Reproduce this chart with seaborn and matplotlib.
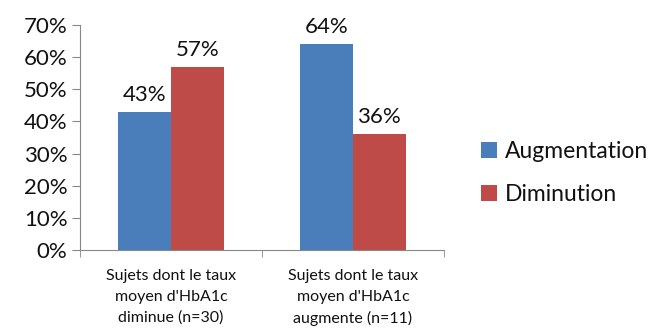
import matplotlib
matplotlib.use("Agg")
import matplotlib.pyplot as plt
import seaborn as sns
import pandas as pd
from matplotlib.patches import Patch
from matplotlib.ticker import FuncFormatter

categories = ["Sujets dont le taux\nmoyen d'HbA1c\ndiminue (n=30)",
              "Sujets dont le taux\nmoyen d'HbA1c\naugmente (n=11)"]
series = ["Augmentation", "Diminution"]
augmentation = [43, 64]
diminution = [57, 36]
colors = ["#4A7EBB", "#BE4B48"]

df = pd.DataFrame({
    "cat": categories * 2,
    "serie": [series[0]] * 2 + [series[1]] * 2,
    "val": augmentation + diminution,
})

sns.set_style("white")
plt.rcParams["font.family"] = ["Lato", "DejaVu Sans"]

fig = plt.figure(figsize=(6.52, 3.29), dpi=100)
ax = fig.add_axes([80 / 652, 1 - 250 / 329, 364 / 652, 225 / 329])

sns.barplot(data=df, x="cat", y="val", hue="serie", palette=colors,
            width=0.58, ax=ax, legend=False, saturation=1,
            edgecolor="none")

for cont in ax.containers:
    ax.bar_label(cont, labels=[f"{v:.0f}%" for v in cont.datavalues],
                 fontsize=16, padding=5, color="#111111")

ax.set_xlim(-0.5, 1.5)
ax.set_ylim(0, 70)
ax.set_yticks(range(0, 71, 10))
ax.yaxis.set_major_formatter(FuncFormatter(lambda v, p: f"{v:.0f}%"))
ax.set_xticks([-0.5, 0.5, 1.5], minor=True)
ax.tick_params(axis="x", which="major", length=0, labelsize=11.5, pad=14)
ax.tick_params(axis="x", which="minor", length=5, color="#888888",
               direction="out", bottom=True)
ax.tick_params(axis="y", length=6, color="#888888", labelsize=16,
               direction="out", left=True, pad=3, labelcolor="#111111")
for lab in ax.get_xticklabels():
    lab.set_linespacing(1.6)
    lab.set_color("#111111")
ax.set_xlabel("")
ax.set_ylabel("")
for s in ["top", "right"]:
    ax.spines[s].set_visible(False)
for s in ["left", "bottom"]:
    ax.spines[s].set_color("#888888")
    ax.spines[s].set_linewidth(0.8)

handles = [Patch(facecolor=c, edgecolor="none") for c in colors]
fig.legend(handles, series, loc="center left",
           bbox_to_anchor=(465 / 652, 1 - 173 / 329), frameon=False,
           fontsize=16.5, handlelength=0.7, handleheight=0.7,
           handletextpad=0.35, labelspacing=1.0, borderpad=0.2,
           labelcolor="#111111")

fig.savefig("out.png", dpi=100)
